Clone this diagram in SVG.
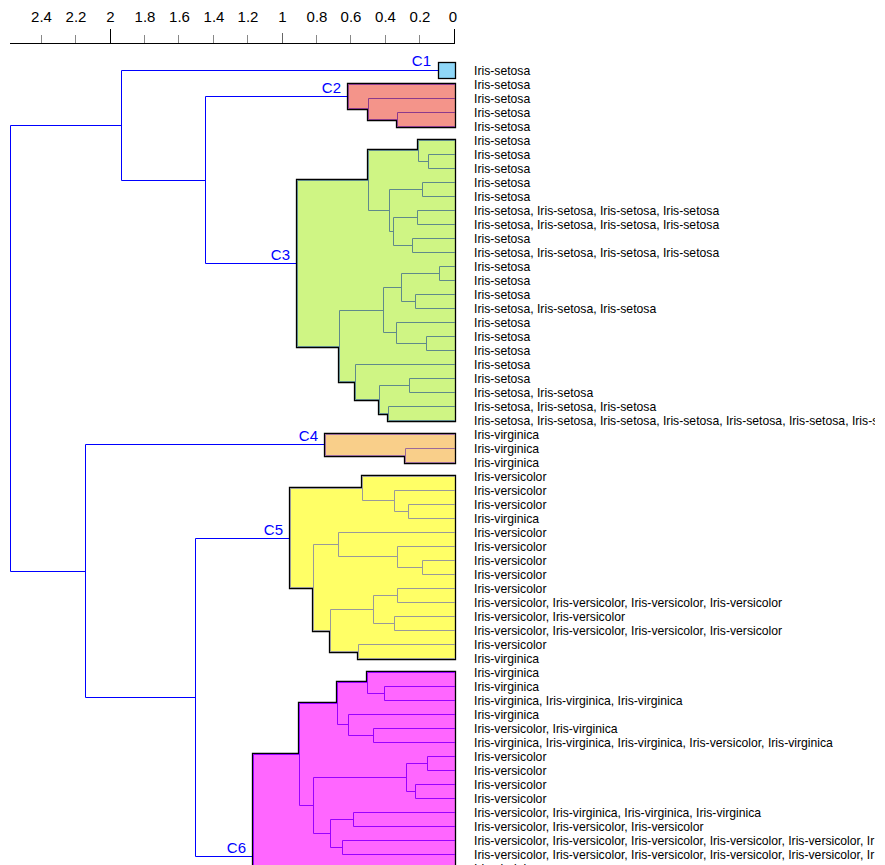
<svg xmlns="http://www.w3.org/2000/svg" width="885" height="865" viewBox="0 0 885 865">
<style>
.ax{font-family:"Liberation Sans",Arial,sans-serif;font-size:15px;fill:#000;text-anchor:middle}
.cl{font-family:"Liberation Sans",Arial,sans-serif;font-size:15px;fill:#0000ff;text-anchor:end}
.rw{font-family:"Liberation Sans",Arial,sans-serif;font-size:12.2px;fill:#000}
.env{stroke:#000;stroke-width:1.3}
.in{fill:none;stroke-width:1}
.con{fill:none;stroke:#0000ff;stroke-width:1}
</style>
<defs>
<clipPath id="clipR"><rect x="0" y="0" width="875" height="865"/></clipPath>
</defs>
<rect x="0" y="0" width="885" height="865" fill="#fff"/>
<g id="axis" fill="none">
<path d="M10,43.5 H455" stroke="#000"/>
<path d="M454.5,29 V43 M110.5,29 V43" stroke="#000"/>
<path d="M282.5,33 V43" stroke="#666"/>
<path d="M419.5,35 V43 M385.5,35 V43 M350.5,35 V43 M316.5,35 V43 M247.5,35 V43 M213.5,35 V43 M178.5,35 V43 M144.5,35 V43 M75.5,35 V43 M41.5,35 V43" stroke="#888"/>
<text class="ax" x="41.5" y="22">2.4</text>
<text class="ax" x="76" y="22">2.2</text>
<text class="ax" x="110.5" y="22">2</text>
<text class="ax" x="145" y="22">1.8</text>
<text class="ax" x="179.5" y="22">1.6</text>
<text class="ax" x="214" y="22">1.4</text>
<text class="ax" x="248" y="22">1.2</text>
<text class="ax" x="282.5" y="22">1</text>
<text class="ax" x="317" y="22">0.8</text>
<text class="ax" x="351" y="22">0.6</text>
<text class="ax" x="385.5" y="22">0.4</text>
<text class="ax" x="420" y="22">0.2</text>
<text class="ax" x="453" y="22">0</text>
</g>
<g id="connectors" class="con">
<path d="M438,70.5 H121.5 V180.5 H205.5"/>
<path d="M347.5,96.5 H205.5 V263.5 H296.5"/>
<path d="M121.5,125.5 H10.5 V571.5 H85.5"/>
<path d="M324.5,444.5 H85.5 V697.5 H195.5"/>
<path d="M289.5,538.5 H195.5 V856.5 H252.5"/>
</g>
<g id="C1">
<rect x="438.5" y="62.5" width="17" height="16" fill="#8fd7f8" class="env"/>
<text class="cl" x="431" y="66">C1</text>
</g>
<g id="C2">
<path class="env" fill="#f4948a" d="M455.5,83.5 H347.5 V109.5 H367.5 V120.5 H396.5 V127.5 H455.5 Z"/>
<path class="in" stroke="#8c3a8c" d="M455,112.5 H397.5 V126.5 H455 M455,98.5 H368.5 V119.5 H397.5 M455,84.5 H348.5 V108.5 H368.5"/>
<text class="cl" x="341" y="92.5">C2</text>
</g>
<g id="C3">
<path class="env" fill="#cff584" d="M455.5,139.5 H417.5 V149.5 H367.5 V179.5 H296.5 V347.5 H338.5 V382.5 H354.5 V400.5 H378.5 V414.5 H387.5 V421.5 H455.5 Z"/>
<path class="in" stroke="#608a8a" d="M455,154.5 H428.5 V168.5 H455 M455,140.5 H418.5 V161.5 H428.5 M455,182.5 H422.5 V196.5 H455 M455,210.5 H417.5 V224.5 H455 M455,238.5 H412.5 V252.5 H455 M417.5,217.5 H393.5 V245.5 H412.5 M422.5,189.5 H389.5 V231.5 H393.5 M418.5,150.5 H368.5 V210.5 H389.5 M455,266.5 H439.5 V280.5 H455 M455,294.5 H415.5 V308.5 H455 M439.5,273.5 H401.5 V301.5 H415.5 M455,336.5 H426.5 V350.5 H455 M455,322.5 H396.5 V343.5 H426.5 M401.5,287.5 H383.5 V332.5 H396.5 M455,378.5 H409.5 V392.5 H455 M455,406.5 H388.5 V420.5 H455 M409.5,385.5 H379.5 V413.5 H388.5 M455,364.5 H355.5 V399.5 H379.5 M383.5,310.5 H339.5 V381.5 H355.5 M368.5,180.5 H297.5 V346.5 H339.5"/>
<text class="cl" x="290" y="259.5">C3</text>
</g>
<g id="C4">
<path class="env" fill="#f9cf8a" d="M455.5,433.5 H324.5 V456.5 H404.5 V463.5 H455.5 Z"/>
<path class="in" stroke="#9a6a9a" d="M455,448.5 H405.5 V462.5 H455 M455,434.5 H325.5 V455.5 H405.5"/>
<text class="cl" x="318" y="440.5">C4</text>
</g>
<g id="C5">
<path class="env" fill="#ffff66" d="M455.5,475.5 H361.5 V487.5 H289.5 V588.5 H312.5 V631.5 H329.5 V652.5 H357.5 V659.5 H455.5 Z"/>
<path class="in" stroke="#999999" d="M455,504.5 H408.5 V518.5 H455 M455,490.5 H394.5 V511.5 H408.5 M455,476.5 H362.5 V500.5 H394.5 M455,560.5 H422.5 V574.5 H455 M455,546.5 H397.5 V567.5 H422.5 M455,532.5 H338.5 V556.5 H397.5 M455,588.5 H397.5 V602.5 H455 M455,616.5 H394.5 V630.5 H455 M397.5,595.5 H373.5 V623.5 H394.5 M455,644.5 H358.5 V658.5 H455 M373.5,609.5 H330.5 V651.5 H358.5 M338.5,544.5 H313.5 V630.5 H330.5 M362.5,488.5 H290.5 V587.5 H313.5"/>
<text class="cl" x="283" y="534.5">C5</text>
</g>
<g id="C6">
<path class="env" fill="#ff66ff" d="M455.5,671.5 H366.5 V681.5 H336.5 V702.5 H298.5 V753.5 H252.5 V880 H455.5 Z"/>
<path class="in" stroke="#9900ff" d="M455,686.5 H384.5 V700.5 H455 M455,672.5 H367.5 V693.5 H384.5 M455,728.5 H373.5 V742.5 H455 M455,714.5 H348.5 V735.5 H373.5 M367.5,682.5 H337.5 V724.5 H348.5 M455,756.5 H427.5 V770.5 H455 M455,784.5 H415.5 V798.5 H455 M427.5,763.5 H406.5 V791.5 H415.5 M455,812.5 H353.5 V826.5 H455 M455,840.5 H342.5 V854.5 H455 M353.5,819.5 H330.5 V847.5 H342.5 M406.5,777.5 H313.5 V833.5 H330.5 M337.5,703.5 H299.5 V805.5 H313.5 M299.5,754.5 H253.5 V880"/>
<text class="cl" x="246" y="852.5">C6</text>
</g>
<g id="rows" class="rw" clip-path="url(#clipR)">
<text x="474" y="75">Iris-setosa</text>
<text x="474" y="89">Iris-setosa</text>
<text x="474" y="103">Iris-setosa</text>
<text x="474" y="117">Iris-setosa</text>
<text x="474" y="131">Iris-setosa</text>
<text x="474" y="145">Iris-setosa</text>
<text x="474" y="159">Iris-setosa</text>
<text x="474" y="173">Iris-setosa</text>
<text x="474" y="187">Iris-setosa</text>
<text x="474" y="201">Iris-setosa</text>
<text x="474" y="215">Iris-setosa, Iris-setosa, Iris-setosa, Iris-setosa</text>
<text x="474" y="229">Iris-setosa, Iris-setosa, Iris-setosa, Iris-setosa</text>
<text x="474" y="243">Iris-setosa</text>
<text x="474" y="257">Iris-setosa, Iris-setosa, Iris-setosa, Iris-setosa</text>
<text x="474" y="271">Iris-setosa</text>
<text x="474" y="285">Iris-setosa</text>
<text x="474" y="299">Iris-setosa</text>
<text x="474" y="313">Iris-setosa, Iris-setosa, Iris-setosa</text>
<text x="474" y="327">Iris-setosa</text>
<text x="474" y="341">Iris-setosa</text>
<text x="474" y="355">Iris-setosa</text>
<text x="474" y="369">Iris-setosa</text>
<text x="474" y="383">Iris-setosa</text>
<text x="474" y="397">Iris-setosa, Iris-setosa</text>
<text x="474" y="411">Iris-setosa, Iris-setosa, Iris-setosa</text>
<text x="474" y="425">Iris-setosa, Iris-setosa, Iris-setosa, Iris-setosa, Iris-setosa, Iris-setosa, Iris-s</text>
<text x="474" y="439">Iris-virginica</text>
<text x="474" y="453">Iris-virginica</text>
<text x="474" y="467">Iris-virginica</text>
<text x="474" y="481">Iris-versicolor</text>
<text x="474" y="495">Iris-versicolor</text>
<text x="474" y="509">Iris-versicolor</text>
<text x="474" y="523">Iris-virginica</text>
<text x="474" y="537">Iris-versicolor</text>
<text x="474" y="551">Iris-versicolor</text>
<text x="474" y="565">Iris-versicolor</text>
<text x="474" y="579">Iris-versicolor</text>
<text x="474" y="593">Iris-versicolor</text>
<text x="474" y="607">Iris-versicolor, Iris-versicolor, Iris-versicolor, Iris-versicolor</text>
<text x="474" y="621">Iris-versicolor, Iris-versicolor</text>
<text x="474" y="635">Iris-versicolor, Iris-versicolor, Iris-versicolor, Iris-versicolor</text>
<text x="474" y="649">Iris-versicolor</text>
<text x="474" y="663">Iris-virginica</text>
<text x="474" y="677">Iris-virginica</text>
<text x="474" y="691">Iris-virginica</text>
<text x="474" y="705">Iris-virginica, Iris-virginica, Iris-virginica</text>
<text x="474" y="719">Iris-virginica</text>
<text x="474" y="733">Iris-versicolor, Iris-virginica</text>
<text x="474" y="747">Iris-virginica, Iris-virginica, Iris-virginica, Iris-versicolor, Iris-virginica</text>
<text x="474" y="761">Iris-versicolor</text>
<text x="474" y="775">Iris-versicolor</text>
<text x="474" y="789">Iris-versicolor</text>
<text x="474" y="803">Iris-versicolor</text>
<text x="474" y="817">Iris-versicolor, Iris-virginica, Iris-virginica, Iris-virginica</text>
<text x="474" y="831">Iris-versicolor, Iris-versicolor, Iris-versicolor</text>
<text x="474" y="845">Iris-versicolor, Iris-versicolor, Iris-versicolor, Iris-versicolor, Iris-versicolor, Ir</text>
<text x="474" y="859">Iris-versicolor, Iris-versicolor, Iris-versicolor, Iris-versicolor, Iris-versicolor, Ir</text>
<text x="474" y="873">Iris-virginica</text>
</g>
</svg>
